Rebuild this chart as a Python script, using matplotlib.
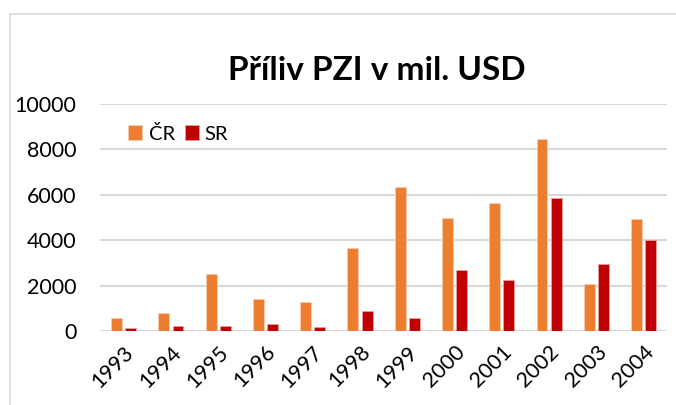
import numpy as np
import matplotlib.pyplot as plt
from matplotlib.patches import Rectangle

plt.rcParams['font.family'] = ['Lato', 'DejaVu Sans']

roky = ['1993', '1994', '1995', '1996', '1997', '1998',
        '1999', '2000', '2001', '2002', '2003', '2004']
cr = [590, 810, 2515, 1400, 1265, 3675, 6325, 4970, 5620, 8470, 2075, 4955]
sr = [130, 205, 205, 325, 160, 880, 590, 2675, 2235, 5840, 2940, 4000]

x = np.arange(len(roky))
sirka = 0.23

fig = plt.figure(figsize=(6.76, 4.05), dpi=100)
ax = fig.add_axes([0.148, 0.183, 0.839, 0.560])

# ramecek grafu (orezany vpravo a dole)
fig.patches.append(Rectangle((10 / 676, -0.5), 2.0, 1.5 - 14 / 405,
                             transform=fig.transFigure, fill=False,
                             edgecolor='#D9D9D9', linewidth=1.2))

ax.bar(x - 0.15, cr, sirka, color='#ED7D31', edgecolor='#F8CBAD',
       linewidth=0.6, label='ČR', zorder=3)
ax.bar(x + 0.15, sr, sirka, color='#C00000', edgecolor='#E8A0A0',
       linewidth=0.6, label='SR', zorder=3)

ax.set_xlim(-0.5, len(roky) - 0.5)
ax.set_ylim(0, 10000)
ax.set_yticks([0, 2000, 4000, 6000, 8000, 10000])
ax.yaxis.grid(True, color='#D9D9D9', linewidth=1.5, zorder=0)
ax.set_axisbelow(True)
for s in ax.spines.values():
    s.set_visible(False)
ax.axhline(0, color='#D9D9D9', linewidth=1.5, zorder=1)

ax.set_xticks(x)
ax.set_xticklabels(roky, rotation=45, ha='right', va='top',
                   rotation_mode='anchor')
ax.tick_params(axis='both', length=0, labelsize=15.5, colors='#000000')
ax.tick_params(axis='y', pad=17)
ax.tick_params(axis='x', pad=8)

fig.text(0.558, 0.825, 'Příliv PZI v mil. USD', ha='center', va='center',
         fontsize=24, fontweight='bold')

ax.legend(loc='center left', bbox_to_anchor=(0.018, 0.87), ncol=2,
          frameon=False, fontsize=14.5, handlelength=0.7, handleheight=0.7,
          handletextpad=0.3, columnspacing=0.5)

fig.savefig('out.png', dpi=100)
